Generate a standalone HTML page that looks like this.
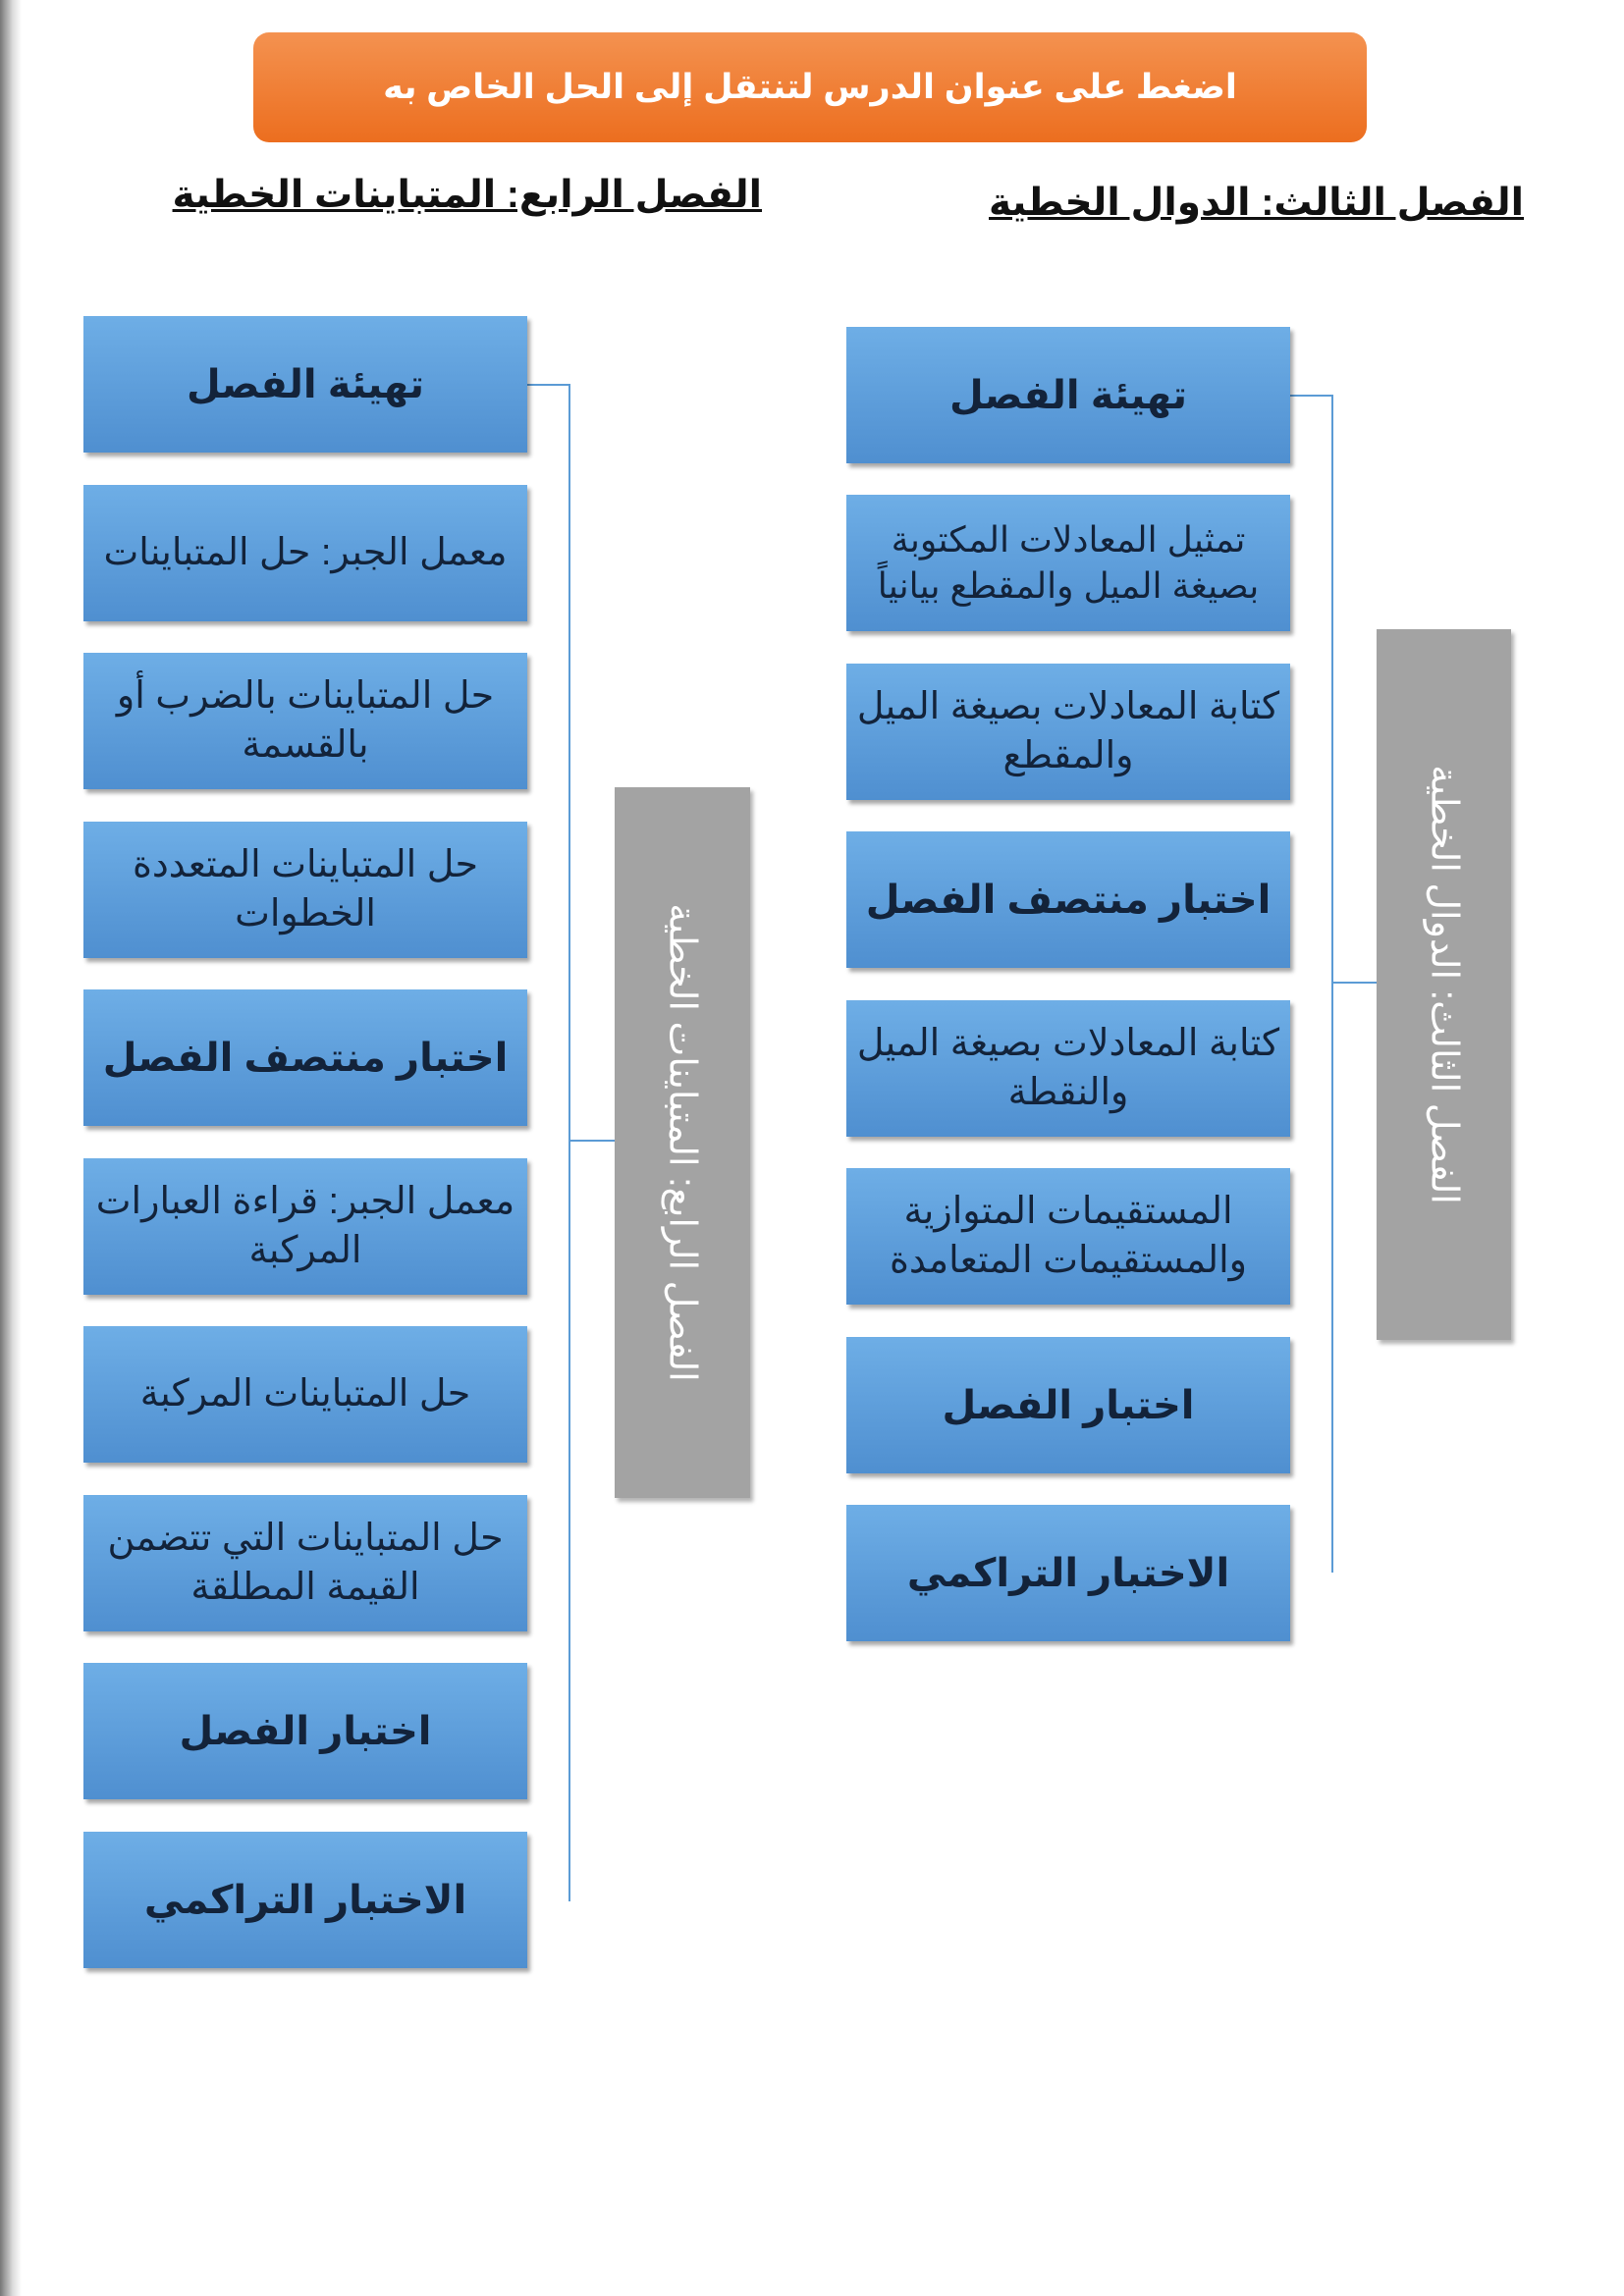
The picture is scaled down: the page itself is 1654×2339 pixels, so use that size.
<!DOCTYPE html>
<html><head><meta charset="utf-8"><style>
body{margin:0;width:1654px;height:2339px;position:relative;background:#fff;font-family:"Liberation Sans","DejaVu Sans","Noto Sans CJK SC",sans-serif;overflow:hidden}
.edge{position:absolute;left:0;top:0;width:22px;height:2339px;background:linear-gradient(90deg,#777,#ddd 60%,#fff)}
.bar{position:absolute;left:258px;top:33px;width:1134px;height:112px;border-radius:16px;background:linear-gradient(#f49250,#ec6e1f);color:#fff;font-size:35px;font-weight:bold;display:flex;align-items:center;justify-content:center;direction:rtl}
.t{position:absolute;font-size:39px;font-weight:bold;text-decoration:underline;color:#111;direction:rtl;white-space:nowrap}
.b{position:absolute;width:452px;height:139px;background:linear-gradient(#6eaee6,#4f8fd0);box-shadow:3px 4px 4px rgba(0,0,0,.35);color:#13233a;font-size:38px;display:flex;align-items:center;justify-content:center;text-align:center;direction:rtl;line-height:1.3;box-sizing:border-box;padding:0 10px}
.b.k{font-weight:bold;font-size:40px}
.g{position:absolute;background:#a3a3a3;box-shadow:3px 4px 4px rgba(0,0,0,.3)}
.g span{position:absolute;left:50%;top:50%;transform:translate(-50%,-50%) rotate(90deg);white-space:nowrap;color:#fff;font-size:38px;direction:rtl}
.l{position:absolute;background:#5b9bd5}
</style></head><body>
<div class="edge"></div>
<div class="bar">اضغط على عنوان الدرس لتنتقل إلى الحل الخاص به</div>
<div class="t" style="left:1022px;top:184px;width:530px;text-align:right">الفصل الثالث: الدوال الخطية</div>
<div class="t" style="left:216px;top:176px;width:560px;text-align:right">الفصل الرابع: المتباينات الخطية</div>

<div class="l" style="left:537px;top:391px;width:44px;height:2px"></div>
<div class="l" style="left:579px;top:391px;width:2px;height:1546px"></div>
<div class="l" style="left:579px;top:1161px;width:47px;height:2px"></div>
<div class="l" style="left:1313px;top:402px;width:45px;height:2px"></div>
<div class="l" style="left:1356px;top:402px;width:2px;height:1200px"></div>
<div class="l" style="left:1356px;top:1000px;width:46px;height:2px"></div>

<div class="b k" style="left:85px;top:322px">تهيئة الفصل</div>
<div class="b" style="left:85px;top:494px">معمل الجبر: حل المتباينات</div>
<div class="b" style="left:85px;top:665px">حل المتباينات بالضرب أو بالقسمة</div>
<div class="b" style="left:85px;top:837px">حل المتباينات المتعددة الخطوات</div>
<div class="b k" style="left:85px;top:1008px">اختبار منتصف الفصل</div>
<div class="b" style="left:85px;top:1180px">معمل الجبر: قراءة العبارات المركبة</div>
<div class="b" style="left:85px;top:1351px">حل المتباينات المركبة</div>
<div class="b" style="left:85px;top:1523px">حل المتباينات التي تتضمن القيمة المطلقة</div>
<div class="b k" style="left:85px;top:1694px">اختبار الفصل</div>
<div class="b k" style="left:85px;top:1866px">الاختبار التراكمي</div>

<div class="b k" style="left:862px;top:333px">تهيئة الفصل</div>
<div class="b" style="left:862px;top:504px;font-size:36px">تمثيل المعادلات المكتوبة بصيغة الميل والمقطع بيانياً</div>
<div class="b" style="left:862px;top:676px">كتابة المعادلات بصيغة الميل والمقطع</div>
<div class="b k" style="left:862px;top:847px">اختبار منتصف الفصل</div>
<div class="b" style="left:862px;top:1019px">كتابة المعادلات بصيغة الميل والنقطة</div>
<div class="b" style="left:862px;top:1190px">المستقيمات المتوازية والمستقيمات المتعامدة</div>
<div class="b k" style="left:862px;top:1362px">اختبار الفصل</div>
<div class="b k" style="left:862px;top:1533px">الاختبار التراكمي</div>

<div class="g" style="left:626px;top:802px;width:138px;height:724px"><span>الفصل الرابع: المتباينات الخطية</span></div>
<div class="g" style="left:1402px;top:641px;width:137px;height:724px"><span>الفصل الثالث: الدوال الخطية</span></div>
</body></html>
